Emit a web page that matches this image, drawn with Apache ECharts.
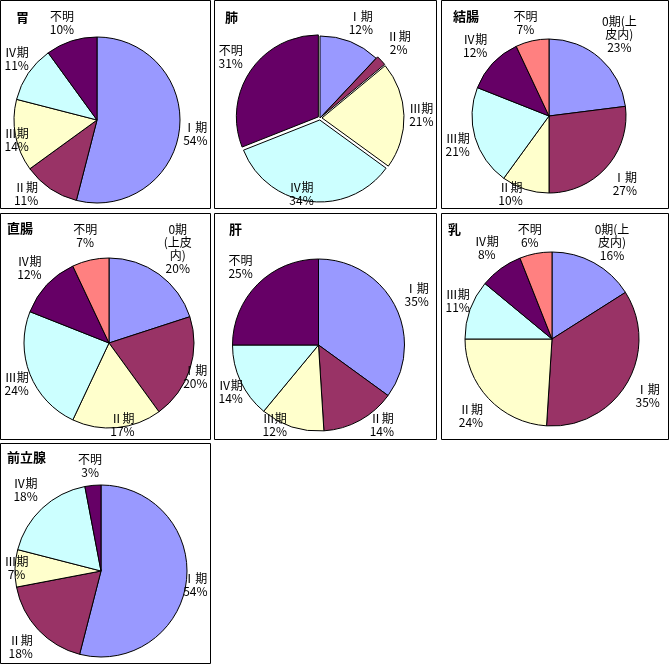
<!DOCTYPE html>
<html><head><meta charset="utf-8">
<script src="https://cdn.jsdelivr.net/npm/echarts@6/dist/echarts.min.js"></script>
<style>html,body{margin:0;padding:0;background:#fff}#c{width:670px;height:665px}</style>
</head><body><div id="c"></div><script>
// Category labels
const stageCats  = ['Ⅰ期', 'Ⅱ期', 'Ⅲ期', 'Ⅳ期', '不明'];
const colonCats  = ['0期(上\n皮内)', 'Ⅰ期', 'Ⅱ期', 'Ⅲ期', 'Ⅳ期', '不明'];
const rectumCats = ['0期\n(上皮\n内)', 'Ⅰ期', 'Ⅱ期', 'Ⅲ期', 'Ⅳ期', '不明'];
const breastCats = ['0期(上\n皮内)', 'Ⅰ期', 'Ⅱ期', 'Ⅲ期', 'Ⅳ期', '不明'];
// Values (%)
const stomach  = [54, 11, 14, 11, 10];
const lung     = [12, 2, 21, 34, 31];
const colon    = [23, 27, 10, 21, 12, 7];
const rectum   = [20, 20, 17, 24, 12, 7];
const liver    = [35, 14, 12, 14, 25];
const breast   = [16, 35, 24, 11, 8, 6];
const prostate = [54, 18, 7, 18, 3];
// Titles
const titles = ['胃', '肺', '結腸', '直腸', '肝', '乳', '前立腺'];

const palette = ['#9999FF', '#993366', '#FFFFCC', '#CCFFFF', '#660066', '#FF8080'];
const FONT = '"MS PGothic","Noto Sans CJK JP","Noto Sans",sans-serif';
const EXPLODE = 2;
const GAP = 12;

const panels = [
  {cats: stageCats,  vals: stomach,  box: [0.5, 0.5, 210.5, 208.5],   center: [97, 120],  r: 83, tpos: [16, 11]},
  {cats: stageCats,  vals: lung,     box: [214.5, 0.5, 436.5, 208.5], center: [320, 118], r: 82, tpos: [225, 11], explode: [1, 2, 3, 4]},
  {cats: colonCats,  vals: colon,    box: [441.5, 0.5, 668.5, 208.5], center: [549, 116], r: 77, tpos: [453, 10]},
  {cats: rectumCats, vals: rectum,   box: [0.5, 213.5, 210.5, 439.5], center: [109, 343], r: 85, tpos: [7, 222]},
  {cats: stageCats,  vals: liver,    box: [214.5, 213.5, 436.5, 439.5], center: [318.5, 345], r: 86, tpos: [229, 223]},
  {cats: breastCats, vals: breast,   box: [441.5, 213.5, 668.5, 439.5], center: [552, 339], r: 87, tpos: [448, 223]},
  {cats: stageCats,  vals: prostate, box: [0.5, 443.5, 210.5, 663.5], center: [101, 571], r: 86, tpos: [7, 451]}
];

const chart = echarts.init(document.getElementById('c'), null, {renderer: 'canvas'});

function makeLayout(p) {
  return function (params) {
    const vals = p.vals;
    const total = vals.reduce((a, b) => a + b, 0);
    let cum = 0;
    for (let i = 0; i < params.dataIndex; i++) cum += vals[i];
    const th = (cum + vals[params.dataIndex] / 2) / total * Math.PI * 2;
    const dx = Math.sin(th), dy = -Math.cos(th);
    const hw = params.labelRect.width / 2, hh = params.labelRect.height / 2;
    const off = (p.explode && p.explode.includes(params.dataIndex)) ? EXPLODE : 0;
    const d = p.r + GAP + off;
    let x = p.center[0] + dx * d + dx * hw;
    let y = p.center[1] + dy * d + dy * hh;
    const y0 = y;
    y = Math.min(Math.max(y, p.box[1] + 9 + hh), p.box[3] - 2 - hh);
    const shiftY = Math.abs(y - y0);
    x += Math.sign(dx) * shiftY * Math.abs(dx) * 1.2;
    x = Math.min(Math.max(x, p.box[0] + 4 + hw), p.box[2] - 3 - hw);
    return {x: x, y: y, align: 'center', verticalAlign: 'middle'};
  };
}

const labelOpt = {
  show: true, position: 'outside', formatter: '{b}\n{c}%',
  fontSize: 12, lineHeight: 13, color: '#000', fontFamily: FONT, align: 'center'
};

const series = [];
panels.forEach(p => {
  const base = {
    type: 'pie', center: p.center, radius: p.r, startAngle: 90, clockwise: true,
    avoidLabelOverlap: false, animation: false, emphasis: {disabled: true},
    labelLine: {show: false, length: 5, length2: 0},
    labelLayout: makeLayout(p)
  };
  series.push(Object.assign({}, base, {
    selectedMode: p.explode ? 'multiple' : false,
    selectedOffset: EXPLODE,
    label: p.explode ? {show: false} : labelOpt,
    itemStyle: {borderColor: '#000', borderWidth: 1},
    data: p.cats.map((n, i) => ({
      name: n, value: p.vals[i],
      selected: !!(p.explode && p.explode.includes(i)),
      itemStyle: {color: palette[i]}
    }))
  }));
  if (p.explode) {
    // transparent overlay carrying the labels of the exploded pie
    series.push(Object.assign({}, base, {
      silent: true, selectedMode: false, z: 3,
      label: labelOpt,
      itemStyle: {color: 'rgba(0,0,0,0)', borderWidth: 0},
      data: p.cats.map((n, i) => ({name: n, value: p.vals[i]}))
    }));
  }
});

const title = panels.map((p, i) => ({
  text: titles[i], left: p.tpos[0], top: p.tpos[1], padding: 0,
  textStyle: {fontSize: 13, fontWeight: 'bold', color: '#000', fontFamily: FONT}
}));

const graphic = panels.map(p => ({
  type: 'rect', silent: true,
  shape: {x: p.box[0], y: p.box[1], width: p.box[2] - p.box[0], height: p.box[3] - p.box[1]},
  style: {fill: 'none', stroke: '#000', lineWidth: 1}
}));

chart.setOption({backgroundColor: '#fff', animation: false, title, graphic, series});
</script></body></html>
